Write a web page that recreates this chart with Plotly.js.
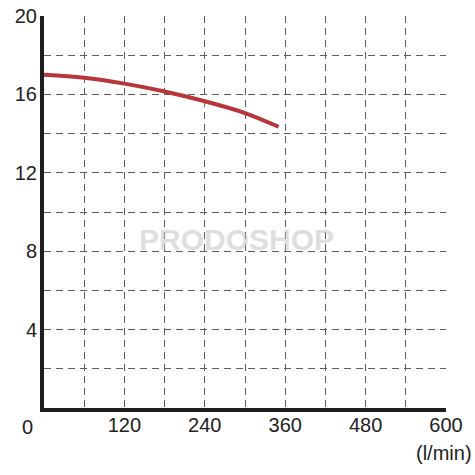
<!DOCTYPE html>
<html>
<head>
<meta charset="utf-8">
<script src="https://cdn.plot.ly/plotly-3.0.1.min.js"></script>
<style>html,body{margin:0;padding:0;background:#fff;}#chart{width:475px;height:475px;}</style>
</head>
<body>
<div id="chart"></div>
<script>
// Pump curve: head vs flow (l/min)
const flow = [0, 60, 120, 180, 240, 300, 350];
const head = [17.0, 16.85, 16.55, 16.15, 15.65, 15.05, 14.35];
const xTickVals = [120, 240, 360, 480, 600];
const xTickText = ['120', '240', '360', '480', '600'];
const xGridVals = [60, 120, 180, 240, 300, 360, 420, 480, 540];
const yTickVals = [4, 8, 12, 16, 20];
const yTickText = ['4', '8', '12', '16', '20'];
const yGridVals = [2, 4, 6, 8, 10, 12, 14, 16, 18];

const font = {family: 'Liberation Sans, Arial, sans-serif', size: 20, color: '#222'};
const gridColor = '#5e5e5e';

Plotly.newPlot('chart', [{
  x: flow, y: head, type: 'scatter', mode: 'lines',
  line: {color: '#b8353a', width: 4, shape: 'spline'},
  hoverinfo: 'skip'
}], {
  width: 475, height: 475,
  margin: {l: 44, r: 29, t: 16, b: 67},
  paper_bgcolor: '#fff', plot_bgcolor: '#fff',
  showlegend: false,
  font: font,
  xaxis: {
    range: [0, 600], tickmode: 'array', tickvals: xTickVals, ticktext: xTickText,
    showgrid: false, zeroline: false, showline: true, linecolor: '#1e1e1e', linewidth: 4,
    ticks: '', ticklabelstandoff: -4, tickfont: font,
    minor: {tickmode: 'array', tickvals: xGridVals, showgrid: true, gridcolor: gridColor, gridwidth: 1, griddash: '7px,5px', ticks: ''}
  },
  yaxis: {
    range: [0, 20], tickmode: 'array', tickvals: yTickVals, ticktext: yTickText,
    showgrid: false, zeroline: false, showline: true, linecolor: '#1e1e1e', linewidth: 4,
    ticks: '', ticklabelstandoff: -1, tickfont: font,
    minor: {tickmode: 'array', tickvals: yGridVals, showgrid: true, gridcolor: gridColor, gridwidth: 1, griddash: '7px,5px', ticks: ''}
  },
  annotations: [
    {text: '0', xref: 'paper', yref: 'paper', x: -0.042, y: 0, xanchor: 'center', yanchor: 'top', yshift: -6, showarrow: false, font: font},
    {text: '(l/min)', xref: 'paper', yref: 'paper', x: 1.07, y: 0, xanchor: 'right', yanchor: 'top', yshift: -32, showarrow: false, font: font},
    {text: '<b>PRODOSHOP</b>', xref: 'paper', yref: 'paper', x: 0.48, y: 0.43, xanchor: 'center', yanchor: 'middle', showarrow: false,
     font: {family: 'Liberation Sans, Arial, sans-serif', size: 30, color: 'rgba(190,190,190,0.5)'}}
  ]
}, {staticPlot: true});
</script>
</body>
</html>
